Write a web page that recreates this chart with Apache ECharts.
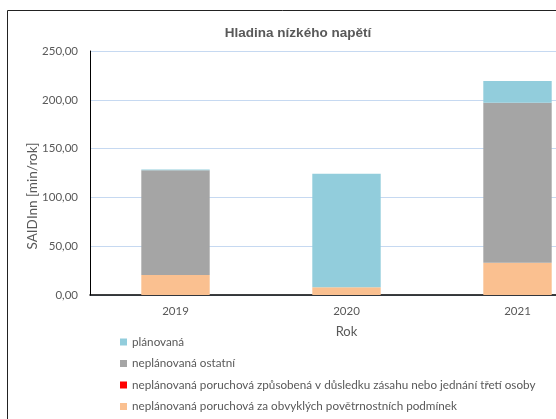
<!DOCTYPE html>
<html>
<head>
<meta charset="utf-8">
<script src="https://cdn.jsdelivr.net/npm/echarts@6/dist/echarts.min.js"></script>
<style>
html,body{margin:0;padding:0;background:#fff;}
#main{width:556px;height:419px;}
</style>
</head>
<body>
<div id="main"></div>
<script>
var years = ['2019', '2020', '2021'];
var seriesNames = [
    'neplánovaná poruchová za obvyklých povětrnostních podmínek',
    'neplánovaná poruchová způsobená v důsledku zásahu nebo jednání třetí osoby',
    'neplánovaná ostatní',
    'plánovaná'
];
var pocasi = [20.5, 8.0, 33.0];
var tretiOsoba = [0, 0, 0];
var ostatni = [107.3, 0, 164.0];
var planovana = [0.7, 116.3, 22.3];
var yTicks = [0, 50, 100, 150, 200, 250];

(function(){
    var myChart = echarts.init(document.getElementById('main'));
    var colors = ['#FAC090', '#FF0000', '#A5A5A5', '#92CDDC'];
    var values = [pocasi, tretiOsoba, ostatni, planovana];
    var font = 'Lato';

    var series = [];
    for (var i = 0; i < values.length; i++) {
        series.push({
            name: seriesNames[i],
            type: 'bar',
            stack: 'sum',
            data: values[i],
            barWidth: '40%',
            itemStyle: { color: colors[i] }
        });
    }

    var option = {
        animation: false,
        textStyle: { fontFamily: font },
        title: {
            text: 'Hladina nízkého napětí',
            left: 293,
            top: 21,
            textAlign: 'center',
            textStyle: { fontFamily: 'Liberation Sans', fontSize: 13.5, fontWeight: 'bold', color: '#595959' }
        },
        grid: { left: 90, top: 51, width: 513, height: 244, outerBoundsMode: 'none', containLabel: false },
        legend: {
            orient: 'vertical',
            left: 115,
            top: 331,
            itemWidth: 7,
            itemHeight: 7,
            itemGap: 9.5,
            icon: 'rect',
            data: seriesNames.slice().reverse(),
            textStyle: { fontFamily: font, fontSize: 11.7, color: '#595959' }
        },
        xAxis: {
            type: 'category',
            data: years,
            name: 'Rok',
            nameLocation: 'middle',
            nameGap: 30,
            nameTextStyle: { fontFamily: font, fontSize: 13, color: '#595959' },
            axisLine: { lineStyle: { color: '#000', width: 1.5 } },
            axisTick: { show: false },
            axisLabel: { margin: 10, fontSize: 11.5, color: '#595959' }
        },
        yAxis: {
            type: 'value',
            min: yTicks[0],
            max: yTicks[yTicks.length - 1],
            interval: 50,
            axisLine: { show: true, lineStyle: { color: '#000', width: 1 } },
            axisTick: { show: false },
            axisLabel: {
                margin: 12,
                fontSize: 11.5,
                color: '#595959',
                formatter: function(v){ return v.toFixed(2).replace('.', ','); }
            },
            splitLine: { show: true, lineStyle: { color: '#C6D9F1', width: 1 } }
        },
        graphic: [
            {
                type: 'rect',
                shape: { x: 7.5, y: 10.5, width: 700, height: 500 },
                style: { fill: 'none', stroke: '#222', lineWidth: 1 },
                silent: true
            },
            {
                type: 'line',
                shape: { x1: 90, y1: 51.5, x2: 610, y2: 51.5 },
                style: { stroke: '#000', lineWidth: 1 },
                silent: true
            },
            {
                type: 'text',
                x: 33,
                y: 196,
                rotation: Math.PI / 2,
                style: {
                    text: 'SAIDInn [min/rok]',
                    font: '13.5px Lato',
                    fill: '#595959',
                    align: 'center',
                    verticalAlign: 'middle'
                }
            }
        ],
        series: series
    };
    myChart.setOption(option);
    window.addEventListener('resize', function(){
        myChart.resize();
    });
})();
</script>
</body>
</html>
